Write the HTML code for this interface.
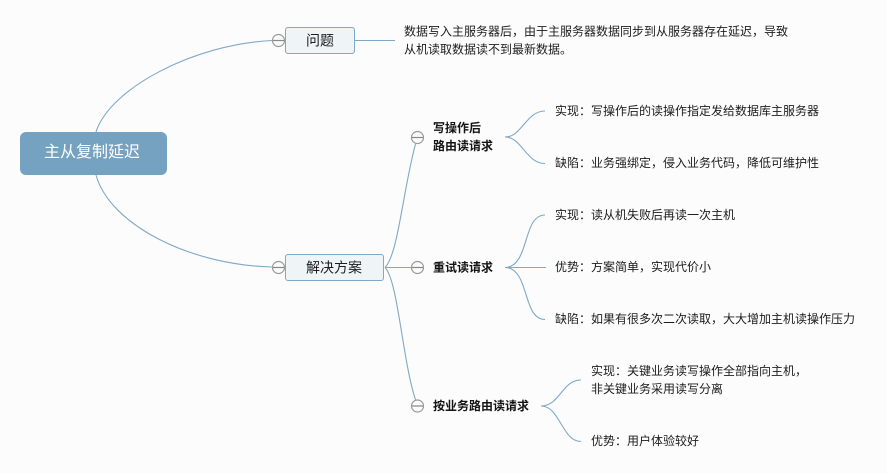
<!DOCTYPE html>
<html>
<head>
<meta charset="utf-8">
<style>
html,body{margin:0;padding:0;background:#fcfcfc}
svg{display:block}
text{font-family:"Liberation Sans","Noto Sans CJK SC",sans-serif;font-size:12px;fill:#1c1c1c}
.b{font-weight:bold;fill:#141414}
.c{fill:none;stroke:#7fa9c8;stroke-width:1.1}
.t{fill:#fcfcfc;stroke:#999;stroke-width:1.2}
.m{stroke:#888;stroke-width:1.2}
</style>
</head>
<body>
<svg width="887" height="473" viewBox="0 0 887 473" xmlns="http://www.w3.org/2000/svg">
<rect width="887" height="473" fill="#fcfcfc"/>

<path class="c" d="M96 132C110 88 195 44 272 40.500"/>
<path class="c" d="M96 175C110 225 190 265 272 267"/>
<path class="c" d="M355 40.500H395"/>
<path class="c" d="M385 267.500C398 255 403 190 415.500 144"/>
<path class="c" d="M385 267.500H411"/>
<path class="c" d="M385 267.500C398 280 403 365 416 401"/>

<path class="c" d="M505 137C522 137 526 111 545 111"/>
<path class="c" d="M505 137C522 137 526 163.500 545 163.500"/>
<path class="c" d="M505 267.500C530 267 522 215 545 215"/>
<path class="c" d="M505 267.500H546"/>
<path class="c" d="M505 267.500C530 268 522 319.500 545 319.500"/>
<path class="c" d="M541 406C560 406 562 380 581 380"/>
<path class="c" d="M541 406C560 406 562 441.500 581 441.500"/>

<rect x="20" y="132" width="147" height="43" rx="6" fill="#76a2c1"/>
<text x="44" y="157" style="font-size:16px;fill:#fff">主从复制延迟</text>

<rect x="285.500" y="27.500" width="69" height="26" rx="2.500" fill="#eff4f7" stroke="#7fa9c8"/>
<text x="306" y="45.500" style="font-size:14px">问题</text>
<rect x="285.500" y="254.500" width="98" height="26" rx="2.500" fill="#eff4f7" stroke="#7fa9c8"/>
<text x="306" y="272.500" style="font-size:14px">解决方案</text>

<circle class="t" cx="278.500" cy="40.500" r="6"/><path class="m" d="M273 40.500H284"/>
<circle class="t" cx="278.500" cy="267.500" r="6"/><path class="m" d="M273 267.500H284"/>
<circle class="t" cx="417.500" cy="137.500" r="6"/><path class="m" d="M412 137.500H423"/>
<circle class="t" cx="417.500" cy="267.500" r="6"/><path class="m" d="M412 267.500H423"/>
<circle class="t" cx="417.500" cy="406" r="6"/><path class="m" d="M412 406H423"/>

<text x="404" y="35.500">数据写入主服务器后，由于主服务器数据同步到从服务器存在延迟，导致</text>
<text x="404" y="53.500">从机读取数据读不到最新数据。</text>

<text class="b" x="433" y="132">写操作后</text>
<text class="b" x="433" y="150">路由读请求</text>
<text class="b" x="433" y="271.500">重试读请求</text>
<text class="b" x="433" y="410">按业务路由读请求</text>

<text x="555" y="115">实现：写操作后的读操作指定发给数据库主服务器</text>
<text x="555" y="167">缺陷：业务强绑定，侵入业务代码，降低可维护性</text>
<text x="555" y="219">实现：读从机失败后再读一次主机</text>
<text x="555" y="271">优势：方案简单，实现代价小</text>
<text x="555" y="323">缺陷：如果有很多次二次读取，大大增加主机读操作压力</text>
<text x="591" y="375">实现：关键业务读写操作全部指向主机，</text>
<text x="591" y="393">非关键业务采用读写分离</text>
<text x="591" y="445">优势：用户体验较好</text>
</svg>
</body>
</html>
